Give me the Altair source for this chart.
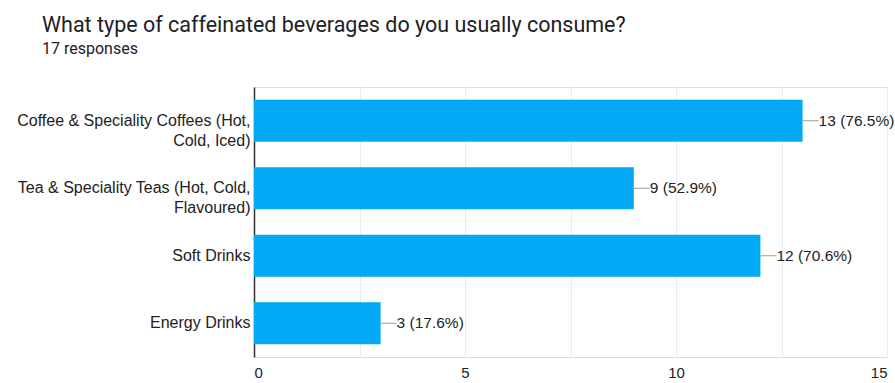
import altair as alt
import pandas as pd

categories = [
    "Coffee & Speciality Coffees (Hot,\nCold, Iced)",
    "Tea & Speciality Teas (Hot, Cold,\nFlavoured)",
    "Soft Drinks",
    "Energy Drinks",
]
counts = [13, 9, 12, 3]
total_responses = 17
x_values = [0, 2.5, 5, 7.5, 10, 12.5, 15]

labels = [f"{c} ({c / total_responses * 100:.1f}%)" for c in counts]
df = pd.DataFrame({"cat": categories, "count": counts, "label": labels})

y_enc = alt.Y(
    "cat:N",
    sort=categories,
    title=None,
    scale=alt.Scale(paddingInner=0.376, paddingOuter=0.188),
    axis=alt.Axis(
        labelExpr="split(datum.label, '\\n')",
        labelLimit=400,
        labelFontSize=16,
        labelFont="Liberation Sans",
        labelColor="#222222",
        labelPadding=4,
        labelLineHeight=20,
        ticks=False,
        domainColor="#333333",
        domainWidth=1.5,
        grid=False,
    ),
)

x_scale = alt.Scale(domain=[0, 15], nice=False)
x_enc = alt.X(
    "count:Q",
    scale=x_scale,
    title=None,
    axis=alt.Axis(
        values=x_values,
        labelExpr="datum.value % 5 == 0 ? datum.label : ''",
        labelFontSize=15,
        labelFont="Liberation Sans",
        labelColor="#222222",
        labelPadding=8,
        ticks=False,
        domain=False,
        gridColor="#ebebeb",
        gridWidth=1,
    ),
)

bars = alt.Chart(df).mark_bar(color="#03A9F4").encode(x=x_enc, y=y_enc)

leaders = alt.Chart(df).mark_rule(color="#9e9e9e", strokeWidth=1, x2Offset=16).encode(
    x=alt.X("count:Q", scale=x_scale),
    x2="count:Q",
    y=alt.Y("cat:N", sort=categories),
)

texts = alt.Chart(df).mark_text(
    align="left", baseline="middle", dx=16, fontSize=15.5, font="Liberation Sans", color="#222222"
).encode(
    x=alt.X("count:Q", scale=x_scale),
    y=alt.Y("cat:N", sort=categories),
    text="label:N",
)

chart = (
    alt.layer(bars, leaders, texts)
    .properties(
        width=633,
        height=270,
        autosize=alt.AutoSizeParams(type="none"),
        padding={"left": 254, "top": 87, "right": 8, "bottom": 26},
        title=alt.TitleParams(
            text="What type of caffeinated beverages do you usually consume?",
            subtitle="17 responses",
            anchor="start",
            frame="group",
            dx=-212,
            offset=30,
            font="Roboto",
            fontSize=21.5,
            fontWeight="normal",
            color="#202124",
            subtitleFont="Roboto",
            subtitleFontSize=16,
            subtitleColor="#202124",
            subtitlePadding=5,
        ),
    )
    .configure_view(stroke="#e6e6e6", strokeWidth=1)
    .configure(background="white")
)

chart.save("out.html", embed_options={"renderer": "svg", "actions": False})
